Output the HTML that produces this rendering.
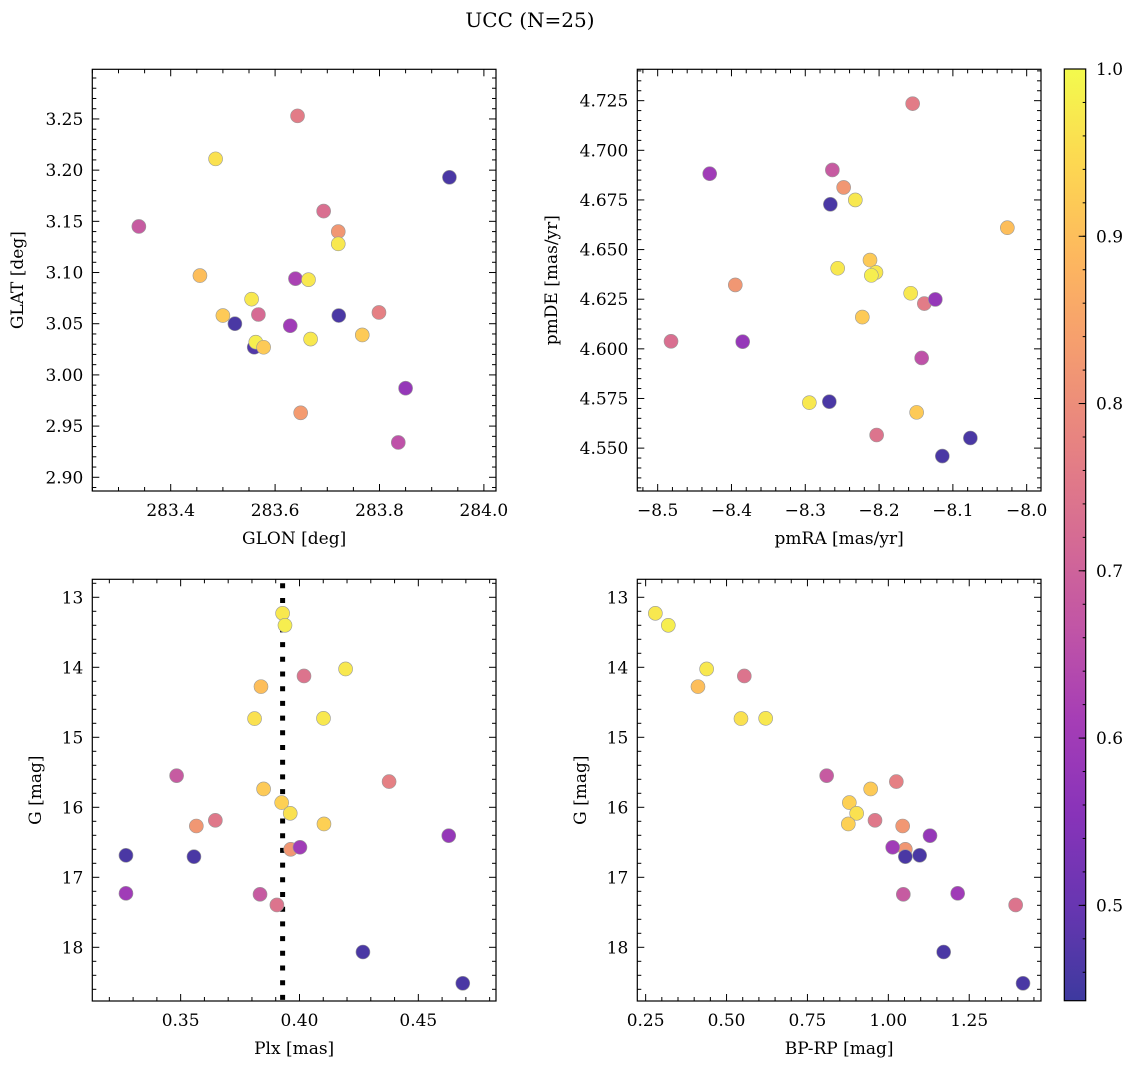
<!DOCTYPE html>
<html><head><meta charset="utf-8"><style>
html,body{margin:0;padding:0;background:#fff;}
svg{display:block;font-family:"DejaVu Serif","Liberation Serif",serif;}
</style></head><body>
<svg id="fig" width="1136" height="1068" xmlns="http://www.w3.org/2000/svg">
<text x="530" y="27" font-size="20" text-anchor="middle">UCC (N=25)</text>
</svg>
<script>
// Panel 1: GLON / GLAT
const p1X=[283.339,283.456,283.486,283.500,283.523,283.555,283.560,283.563,283.578,283.568,283.643,283.629,283.639,283.664,283.668,283.649,283.693,283.721,283.721,283.722,283.767,283.799,283.850,283.836,283.934];
const p1Y=[3.145,3.097,3.211,3.058,3.050,3.074,3.027,3.032,3.027,3.059,3.253,3.048,3.094,3.093,3.035,2.963,3.160,3.140,3.128,3.058,3.039,3.061,2.987,2.934,3.193];
const p1P=[0.68,0.90,0.96,0.92,0.46,0.97,0.47,0.98,0.92,0.72,0.76,0.60,0.62,0.97,0.97,0.83,0.73,0.82,0.97,0.46,0.92,0.77,0.58,0.66,0.46];
// Panel 2: pmRA / pmDE
const p2X=[-8.4819,-8.4295,-8.3948,-8.3848,-8.2945,-8.2674,-8.2633,-8.2660,-8.2480,-8.2322,-8.2561,-8.2123,-8.2042,-8.2105,-8.2227,-8.2033,-8.1545,-8.1572,-8.1491,-8.1423,-8.1387,-8.1238,-8.1143,-8.0763,-8.0262];
const p2Y=[4.6038,4.6882,4.6322,4.6036,4.5729,4.5734,4.6901,4.6728,4.6813,4.6750,4.6406,4.6447,4.6385,4.6370,4.6160,4.5566,4.7235,4.6280,4.5680,4.5954,4.6228,4.6249,4.5460,4.5551,4.6610];
const p2P=[0.73,0.60,0.82,0.58,0.97,0.46,0.68,0.46,0.82,0.97,0.97,0.92,0.97,0.98,0.92,0.74,0.76,0.97,0.92,0.66,0.76,0.58,0.46,0.46,0.90];
// Panel 3: Plx / G
const p3X=[0.3270,0.3270,0.3483,0.3566,0.3556,0.3646,0.3834,0.3838,0.3811,0.3849,0.3905,0.3929,0.3939,0.3925,0.3961,0.3963,0.4002,0.4019,0.4101,0.4103,0.4194,0.4377,0.4267,0.4628,0.4687];
const p3Y=[16.686,17.229,15.548,16.267,16.705,16.186,17.243,14.276,14.733,15.738,17.395,13.229,13.400,15.933,16.086,16.600,16.571,14.124,14.729,16.238,14.024,15.633,18.067,16.405,18.514];
const p3P=[0.46,0.60,0.68,0.82,0.46,0.75,0.68,0.90,0.96,0.92,0.74,0.97,0.98,0.93,0.96,0.82,0.60,0.74,0.97,0.93,0.97,0.77,0.46,0.58,0.46];
const plxLine=[0.3929];
// Panel 4: BP-RP / G
const p4X=[0.280,0.320,0.4385,0.4117,0.5549,0.5446,0.6209,0.8094,0.9454,1.0247,0.8794,0.9021,0.8763,0.9588,1.0443,1.0525,1.0134,1.0525,1.0968,1.1288,1.0463,1.2143,1.171,1.3935,1.4162];
const p4Y=[13.229,13.400,14.024,14.276,14.124,14.733,14.729,15.548,15.738,15.633,15.933,16.086,16.238,16.186,16.267,16.600,16.571,16.705,16.686,16.405,17.243,17.229,18.067,17.395,18.514];
const p4P=[0.97,0.98,0.97,0.90,0.74,0.96,0.97,0.68,0.92,0.77,0.93,0.96,0.93,0.75,0.82,0.82,0.60,0.46,0.46,0.58,0.68,0.60,0.46,0.74,0.46];
const cbTicks=[0.5,0.6,0.7,0.8,0.9,1.0];

const NS="http://www.w3.org/2000/svg";
const svg=document.getElementById('fig');
function mk(tag,attrs,parent){const e=document.createElementNS(NS,tag);for(const k in attrs)e.setAttribute(k,attrs[k]);(parent||svg).appendChild(e);return e;}
const VMIN=0.443,VMAX=1.0;
const stops=[[13,8,135],[65,4,157],[106,0,168],[143,13,164],[177,42,144],[204,71,120],[225,100,98],[242,132,75],[252,166,54],[252,206,37],[240,249,33]];
function cmap(v){let t=(v-VMIN)/(VMAX-VMIN);t=Math.max(0,Math.min(1,t));const f=t*10,i=Math.min(9,Math.floor(f)),r=f-i;
 const c=stops[i].map((a,k)=>a+(stops[i+1][k]-a)*r).map(a=>Math.round(a*0.8+255*0.2));return `rgb(${c[0]},${c[1]},${c[2]})`;}
function fmt(v,d){const s=Math.abs(v).toFixed(d);return (v<-1e-9?'\u2212':'')+s;}
function panel(o){
 const {L,R,T,B,xd,yd,inv}=o;
 const sx=v=>L+(v-xd[0])/(xd[1]-xd[0])*(R-L);
 const sy=inv?(v=>T+(v-yd[0])/(yd[1]-yd[0])*(B-T)):(v=>B-(v-yd[0])/(yd[1]-yd[0])*(B-T));
 const g=mk('g',{});
 if(o.vline){const l=mk('line',{x1:sx(o.vline[0]),x2:sx(o.vline[0]),y1:T+4,y2:B,stroke:'#000','stroke-width':5,'stroke-dasharray':'5 9.7'},g);}
 for(let i=0;i<o.x.length;i++){const c=mk('circle',{cx:sx(o.x[i]),cy:sy(o.y[i]),r:7,fill:cmap(o.p[i]),stroke:'#999','stroke-width':0.6},g);
  }
 const eps=1e-9;
 const minX=Math.ceil(xd[0]/o.xm-eps)*o.xm;
 for(let v=minX;v<=xd[1]+eps;v+=o.xm){const isM=Math.abs(v/o.xM-Math.round(v/o.xM))<1e-4;const len=isM?7:4;const x=sx(v);
  mk('line',{x1:x,x2:x,y1:B,y2:B-len,stroke:'#000','stroke-width':1},g);mk('line',{x1:x,x2:x,y1:T,y2:T+len,stroke:'#000','stroke-width':1},g);
  if(isM){const t=mk('text',{x:x,y:B+25,'font-size':17,'text-anchor':'middle'},g);t.textContent=fmt(Math.round(v/o.xM)*o.xM,o.xdec);}}
 const minY=Math.ceil(yd[0]/o.ym-eps)*o.ym;
 for(let v=minY;v<=yd[1]+eps;v+=o.ym){const isM=Math.abs(v/o.yM-Math.round(v/o.yM))<1e-4;const len=isM?7:4;const y=sy(v);
  mk('line',{x1:L,x2:L+len,y1:y,y2:y,stroke:'#000','stroke-width':1},g);mk('line',{x1:R,x2:R-len,y1:y,y2:y,stroke:'#000','stroke-width':1},g);
  if(isM){const t=mk('text',{x:L-9,y:y+6,'font-size':17,'text-anchor':'end'},g);t.textContent=fmt(Math.round(v/o.yM)*o.yM,o.ydec);}}
 mk('rect',{x:L,y:T,width:R-L,height:B-T,fill:'none',stroke:'#000','stroke-width':1.2},g);
 const xl=mk('text',{x:(L+R)/2,y:B+53,'font-size':17,'text-anchor':'middle'},g);xl.textContent=o.xlab;
 const yx=o.ylx,yy=(T+B)/2;const yl=mk('text',{x:yx,y:yy,'font-size':17,'text-anchor':'middle',transform:`rotate(-90 ${yx} ${yy})`},g);yl.textContent=o.ylab;
}
panel({name:'glon-glat-panel',L:92.3,R:496,T:69.3,B:491,xd:[283.2498,284.0232],yd:[2.8866,3.2985],x:p1X,y:p1Y,p:p1P,xM:0.2,xm:0.05,yM:0.05,ym:0.01,xdec:1,ydec:2,xlab:'GLON [deg]',ylab:'GLAT [deg]',ylx:23});
panel({name:'pm-panel',L:637.3,R:1041,T:69.3,B:491,xd:[-8.5276,-7.9806],yd:[4.5284,4.7408],x:p2X,y:p2Y,p:p2P,xM:0.1,xm:0.02,yM:0.025,ym:0.005,xdec:1,ydec:3,xlab:'pmRA [mas/yr]',ylab:'pmDE [mas/yr]',ylx:557});
panel({name:'plx-g-panel',L:92.3,R:496,T:579.3,B:1001,xd:[0.31283,0.48268],yd:[12.743,18.767],inv:true,x:p3X,y:p3Y,p:p3P,vline:plxLine,xM:0.05,xm:0.01,yM:1,ym:0.2,xdec:2,ydec:0,xlab:'Plx [mas]',ylab:'G [mag]',ylx:41});
panel({name:'cmd-panel',L:637.3,R:1041,T:579.3,B:1001,xd:[0.2242,1.4718],yd:[12.743,18.767],inv:true,x:p4X,y:p4Y,p:p4P,xM:0.25,xm:0.05,yM:1,ym:0.2,xdec:2,ydec:0,xlab:'BP-RP [mag]',ylab:'G [mag]',ylx:586});
const cbL=1064.3,cbR=1085.7,cbT=69,cbB=1000.7;
const cy=v=>cbB-(v-VMIN)/(VMAX-VMIN)*(cbB-cbT);
const defs=mk('defs',{});const lg=mk('linearGradient',{id:'cbg',x1:0,y1:1,x2:0,y2:0},defs);
for(let i=0;i<=40;i++){const v=VMIN+(VMAX-VMIN)*i/40;mk('stop',{offset:(i/40),'stop-color':cmap(v)},lg);}
const cb=mk('g',{});
mk('rect',{x:cbL,y:cbT,width:cbR-cbL,height:cbB-cbT,fill:'url(#cbg)',stroke:'#000','stroke-width':1.2},cb);
for(let v=0.46;v<=1.0001;v+=0.02){const y=cy(v);mk('line',{x1:cbR,x2:cbR-3,y1:y,y2:y,stroke:'#000'},cb);}
cbTicks.forEach(v=>{const y=cy(v);mk('line',{x1:cbR,x2:cbR-7,y1:y,y2:y,stroke:'#000'},cb);
 const t=mk('text',{x:1096,y:y+6,'font-size':17},cb);t.textContent=v.toFixed(1);});
</script>
</body></html>
